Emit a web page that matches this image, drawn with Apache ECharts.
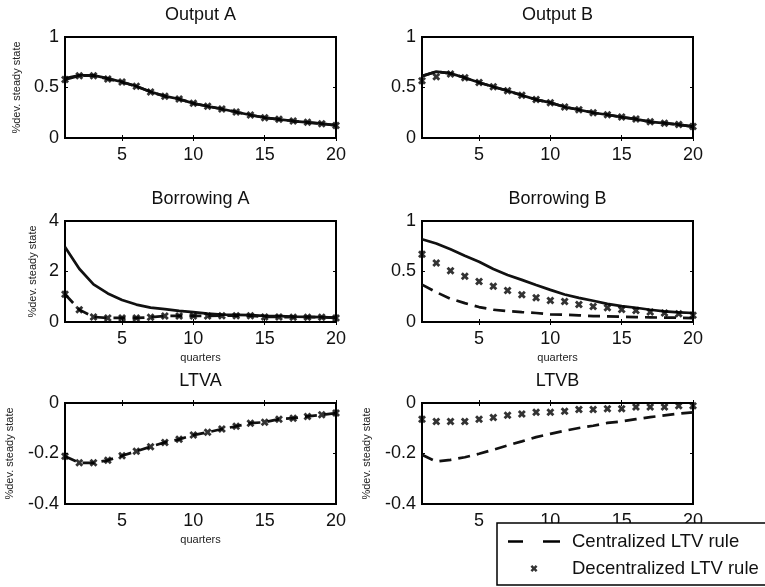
<!DOCTYPE html>
<html>
<head>
<meta charset="utf-8">
<script src="https://cdn.jsdelivr.net/npm/echarts@6/dist/echarts.min.js"></script>
<style>
  html, body { margin: 0; padding: 0; background: #fff; overflow: hidden; }
  #chart { width: 765px; height: 587px; }
</style>
</head>
<body>
<div id="chart"></div>
<script>
var quarters = [1, 2, 3, 4, 5, 6, 7, 8, 9, 10, 11, 12, 13, 14, 15, 16, 17, 18, 19, 20];
var xTicks = [5, 10, 15, 20];
var titles = ["Output A", "Output B", "Borrowing A", "Borrowing B", "LTVA", "LTVB"];

var yMin = [0, 0, 0, 0, -0.4, -0.4];
var yMax = [1, 1, 4, 1, 0, 0];
var yStep = [0.5, 0.5, 2, 0.5, 0.2, 0.2];

// solid line (no LTV rule)
var outputANone = [0.59, 0.62, 0.62, 0.59, 0.555, 0.512, 0.458, 0.415, 0.386, 0.343, 0.314, 0.287, 0.257, 0.228, 0.201, 0.185, 0.168, 0.155, 0.142, 0.125];
var outputBNone = [0.613, 0.657, 0.64, 0.597, 0.55, 0.507, 0.467, 0.423, 0.38, 0.35, 0.307, 0.28, 0.25, 0.23, 0.207, 0.187, 0.16, 0.147, 0.133, 0.113];
var borrowANone = [2.97, 2.11, 1.49, 1.13, 0.87, 0.69, 0.57, 0.51, 0.44, 0.39, 0.33, 0.29, 0.28, 0.27, 0.24, 0.23, 0.21, 0.2, 0.19, 0.17];
var borrowBNone = [0.82, 0.777, 0.72, 0.656, 0.597, 0.525, 0.466, 0.417, 0.367, 0.318, 0.272, 0.239, 0.21, 0.18, 0.157, 0.141, 0.121, 0.105, 0.095, 0.089];

// dashed line (centralized LTV rule)
var outputACent = [0.578, 0.617, 0.617, 0.584, 0.554, 0.512, 0.455, 0.413, 0.386, 0.343, 0.314, 0.287, 0.257, 0.228, 0.201, 0.185, 0.168, 0.155, 0.142, 0.125];
var outputBCent = [0.613, 0.657, 0.64, 0.597, 0.55, 0.507, 0.467, 0.423, 0.38, 0.35, 0.307, 0.28, 0.25, 0.23, 0.207, 0.187, 0.16, 0.147, 0.133, 0.113];
var borrowACent = [1.1, 0.49, 0.2, 0.16, 0.16, 0.16, 0.19, 0.24, 0.24, 0.24, 0.24, 0.25, 0.25, 0.25, 0.2, 0.2, 0.19, 0.19, 0.19, 0.16];
var borrowBCent = [0.37, 0.295, 0.23, 0.187, 0.148, 0.121, 0.108, 0.098, 0.089, 0.075, 0.072, 0.066, 0.059, 0.056, 0.052, 0.049, 0.046, 0.043, 0.043, 0.039];
var ltvACent = [-0.211, -0.237, -0.237, -0.227, -0.209, -0.191, -0.173, -0.156, -0.144, -0.127, -0.116, -0.103, -0.092, -0.08, -0.076, -0.064, -0.06, -0.053, -0.047, -0.04];
var ltvBCent = [-0.205, -0.232, -0.225, -0.215, -0.201, -0.185, -0.168, -0.152, -0.135, -0.122, -0.11, -0.099, -0.09, -0.079, -0.073, -0.064, -0.056, -0.049, -0.042, -0.037];

// markers (decentralized LTV rule)
var outputADec = [0.578, 0.617, 0.617, 0.584, 0.554, 0.512, 0.455, 0.413, 0.386, 0.343, 0.314, 0.287, 0.257, 0.228, 0.201, 0.185, 0.168, 0.155, 0.142, 0.125];
var outputBDec = [0.567, 0.607, 0.633, 0.597, 0.55, 0.507, 0.467, 0.423, 0.38, 0.35, 0.307, 0.28, 0.25, 0.23, 0.207, 0.187, 0.16, 0.147, 0.133, 0.113];
var borrowADec = [1.1, 0.49, 0.2, 0.16, 0.16, 0.16, 0.19, 0.24, 0.24, 0.24, 0.24, 0.25, 0.25, 0.25, 0.2, 0.2, 0.19, 0.19, 0.19, 0.16];
var borrowBDec = [0.672, 0.584, 0.508, 0.452, 0.4, 0.354, 0.311, 0.269, 0.239, 0.213, 0.203, 0.174, 0.154, 0.141, 0.125, 0.115, 0.098, 0.089, 0.082, 0.066];
var ltvADec = [-0.211, -0.237, -0.237, -0.227, -0.209, -0.191, -0.173, -0.156, -0.144, -0.127, -0.116, -0.103, -0.092, -0.08, -0.076, -0.064, -0.06, -0.053, -0.047, -0.04];
var ltvBDec = [-0.064, -0.073, -0.073, -0.073, -0.064, -0.057, -0.049, -0.044, -0.037, -0.037, -0.033, -0.026, -0.026, -0.023, -0.023, -0.016, -0.016, -0.016, -0.011, -0.011];

var noneData = [outputANone, outputBNone, borrowANone, borrowBNone, null, null];
var centData = [outputACent, outputBCent, borrowACent, borrowBCent, ltvACent, ltvBCent];
var decData = [outputADec, outputBDec, borrowADec, borrowBDec, ltvADec, ltvBDec];

var FONT = "Liberation Sans, Arial, Helvetica, sans-serif";
var INK = "#111";
var xMark = "path://M0,2.5 L2.5,0 L5,2.5 L7.5,0 L10,2.5 L7.5,5 L10,7.5 L7.5,10 L5,7.5 L2.5,10 L0,7.5 L2.5,5 Z";
var dashIcon = "path://M0,0 L15,0 L15,2.5 L0,2.5 Z M35,0 L52,0 L52,2.5 L35,2.5 Z";

var colLeft = [65, 422];
var rowTop = [37, 221, 403];
var plotW = 271, plotH = 101;
var yNameGap = [43, 0, 27, 0, 50, 50];
var showYName = [true, false, true, false, true, true];
var showXName = [false, false, true, true, true, true];

function pairs(arr) {
  return quarters.map(function (q, k) { return [q, arr[k]]; });
}

function initPanels(chartDom, echarts) {
  var myChart = echarts.init(chartDom);
  var grids = [], xAxes = [], yAxes = [], titleList = [], series = [];

  for (var i = 0; i < 6; i++) {
    var left = colLeft[i % 2];
    var top = rowTop[Math.floor(i / 2)];
    grids.push({
      left: left, top: top, width: plotW, height: plotH,
      show: true, borderColor: "#000", borderWidth: 2, backgroundColor: "#fff"
    });
    titleList.push({
      text: titles[i],
      left: left + plotW / 2,
      top: top - 31,
      textAlign: "center",
      padding: 0,
      textStyle: { fontFamily: FONT, fontSize: 18, fontWeight: "normal", color: INK }
    });
    xAxes.push({
      type: "value", gridIndex: i, min: 1, max: 20,
      name: showXName[i] ? "quarters" : "",
      nameLocation: "middle", nameGap: 30,
      nameTextStyle: { fontFamily: FONT, fontSize: 11, color: "#222" },
      axisLine: { show: false },
      axisTick: { inside: true, length: 3, customValues: xTicks, lineStyle: { color: "#000" } },
      axisLabel: { customValues: xTicks, margin: 8, fontFamily: FONT, fontSize: 18, color: INK },
      splitLine: { show: false }
    });
    yAxes.push({
      type: "value", gridIndex: i, min: yMin[i], max: yMax[i], interval: yStep[i],
      name: showYName[i] ? "%dev. steady state" : "",
      nameLocation: "middle", nameGap: yNameGap[i],
      nameTextStyle: { fontFamily: FONT, fontSize: 11, color: "#222" },
      axisLine: { show: false },
      axisTick: { inside: true, length: 3, lineStyle: { color: "#000" } },
      axisLabel: { margin: 6, fontFamily: FONT, fontSize: 18, color: INK },
      splitLine: { show: false }
    });
  }
  // mirrored ticks on top and right edges
  for (var j = 0; j < 6; j++) {
    xAxes.push({
      type: "value", gridIndex: j, position: "top", min: 1, max: 20,
      axisLine: { show: false },
      axisTick: { inside: true, length: 3, customValues: xTicks, lineStyle: { color: "#000" } },
      axisLabel: { show: false }, splitLine: { show: false }
    });
    yAxes.push({
      type: "value", gridIndex: j, position: "right", min: yMin[j], max: yMax[j], interval: yStep[j],
      axisLine: { show: false },
      axisTick: { inside: true, length: 3, lineStyle: { color: "#000" } },
      axisLabel: { show: false }, splitLine: { show: false }
    });
  }

  for (var s = 0; s < 6; s++) {
    if (noneData[s]) {
      series.push({
        name: "No LTV rule", type: "line", xAxisIndex: s, yAxisIndex: s,
        data: pairs(noneData[s]), symbol: "none", color: INK,
        lineStyle: { color: INK, width: 2.7 }, z: 2
      });
    }
    series.push({
      name: "Centralized LTV rule", type: "line", xAxisIndex: s, yAxisIndex: s,
      data: pairs(centData[s]), symbol: "none", color: INK,
      lineStyle: { color: INK, width: 2.7, type: [12, 7] }, z: 3
    });
    series.push({
      name: "Decentralized LTV rule", type: "scatter", xAxisIndex: s, yAxisIndex: s,
      data: pairs(decData[s]), symbol: xMark, symbolSize: 8, clip: false, color: "#000",
      itemStyle: { color: "#000" }, z: 4
    });
  }

  var option = {
    animation: false,
    backgroundColor: "#fff",
    title: titleList,
    grid: grids,
    xAxis: xAxes,
    yAxis: yAxes,
    // legend box runs past the right edge, as in the original figure
    graphic: [{
      type: "rect", z: 50,
      shape: { x: 497, y: 523, width: 300, height: 62 },
      style: { fill: "#fff", stroke: null, lineWidth: 0 }
    }, {
      type: "polyline", z: 51,
      shape: { points: [[800, 523], [497, 523], [497, 585], [800, 585]] },
      style: { fill: null, stroke: "#000", lineWidth: 1.5 }
    }],
    legend: {
      orient: "vertical",
      left: 497, top: 523,
      selectedMode: false,
      itemWidth: 52, itemHeight: 7, itemGap: 8,
      padding: [9, 4, 8, 11],
      z: 60,
      textStyle: { fontFamily: FONT, fontSize: 18.5, color: INK, lineHeight: 18, padding: [0, 0, 0, 7] },
      itemStyle: { color: "#000", borderWidth: 0 },
      data: [
        { name: "Centralized LTV rule", icon: dashIcon },
        { name: "Decentralized LTV rule", icon: xMark }
      ]
    },
    series: series
  };

  myChart.setOption(option);
}

initPanels(document.getElementById("chart"), echarts);
</script>
</body>
</html>
